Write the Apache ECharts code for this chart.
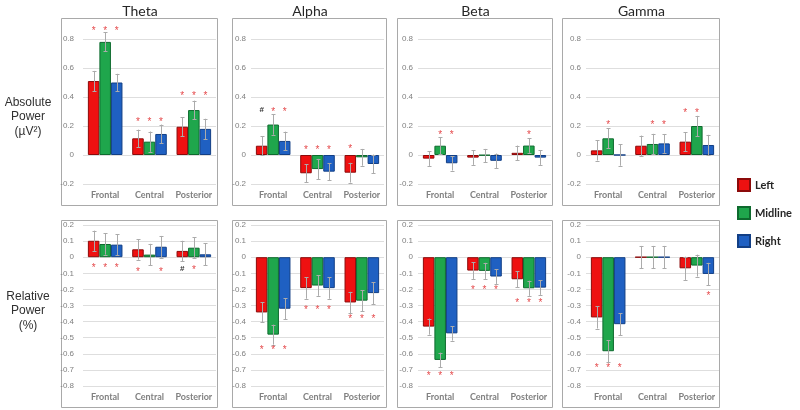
<!DOCTYPE html>
<html><head><meta charset="utf-8">
<script src="https://cdn.jsdelivr.net/npm/echarts@6/dist/echarts.min.js"></script>
<style>html,body{margin:0;padding:0;background:#fff}#c{width:800px;height:410px}</style>
</head><body><div id="c"></div>
<script>
const bands = ['Theta', 'Alpha', 'Beta', 'Gamma'];
const regions = ['Frontal', 'Central', 'Posterior'];
const sides = ['Left', 'Midline', 'Right'];
const rowTitles = ['Absolute\nPower\n(\u00b5V\u00b2)', 'Relative\nPower\n(%)'];
const absTicks = [-0.2, 0, 0.2, 0.4, 0.6, 0.8];
const relTicks = [-0.8, -0.7, -0.6, -0.5, -0.4, -0.3, -0.2, -0.1, 0, 0.1, 0.2];

// Absolute power, per band: [Frontal, Central, Posterior]
const absLeft    = [[0.51, 0.115, 0.195], [0.064, -0.126, -0.122], [-0.025, -0.018, 0.015], [0.032, 0.064, 0.092]];
const absMidline = [[0.78, 0.092, 0.31], [0.21, -0.097, -0.016], [0.064, -0.003, 0.065], [0.115, 0.076, 0.2]];
const absRight   = [[0.50, 0.145, 0.18], [0.097, -0.115, -0.062], [-0.057, -0.04, -0.018], [0.0, 0.08, 0.069]];
const absErrLeft    = [[0.07, 0.06, 0.065], [0.066, 0.063, 0.068], [0.05, 0.05, 0.05], [0.07, 0.07, 0.065]];
const absErrMidline = [[0.065, 0.07, 0.065], [0.07, 0.07, 0.058], [0.06, 0.045, 0.05], [0.07, 0.07, 0.07]];
const absErrRight   = [[0.06, 0.065, 0.07], [0.064, 0.06, 0.065], [0.05, 0.05, 0.05], [0.074, 0.065, 0.07]];

// Relative power, per band: [Frontal, Central, Posterior]
const relLeft    = [[0.102, 0.049, 0.039], [-0.343, -0.192, -0.281], [-0.431, -0.083, -0.137], [-0.374, 0, -0.069]];
const relMidline = [[0.082, 0.016, 0.059], [-0.481, -0.176, -0.27], [-0.638, -0.085, -0.193], [-0.584, 0, -0.052]];
const relRight   = [[0.078, 0.065, 0.018], [-0.32, -0.192, -0.223], [-0.473, -0.12, -0.189], [-0.416, 0, -0.104]];
const relErrLeft    = [[0.063, 0.064, 0.063], [0.062, 0.066, 0.066], [0.05, 0.052, 0.05], [0.069, 0.07, 0.072]];
const relErrMidline = [[0.066, 0.067, 0.065], [0.062, 0.064, 0.066], [0.045, 0.05, 0.047], [0.07, 0.07, 0.068]];
const relErrRight   = [[0.064, 0.067, 0.068], [0.064, 0.066, 0.068], [0.045, 0.046, 0.045], [0.068, 0.07, 0.069]];

// Significance markers: [band, region, side, symbol, y value]
const absMarks = [
  [0, 0, 0, '*', 0.874], [0, 0, 1, '*', 0.874], [0, 0, 2, '*', 0.874],
  [0, 1, 0, '*', 0.246], [0, 1, 1, '*', 0.246], [0, 1, 2, '*', 0.246],
  [0, 2, 0, '*', 0.425], [0, 2, 1, '*', 0.425], [0, 2, 2, '*', 0.425],
  [1, 0, 0, '#', 0.315], [1, 0, 1, '*', 0.315], [1, 0, 2, '*', 0.315],
  [1, 1, 0, '*', 0.05], [1, 1, 1, '*', 0.05], [1, 1, 2, '*', 0.05],
  [1, 2, 0, '*', 0.057],
  [2, 0, 1, '*', 0.154], [2, 0, 2, '*', 0.154], [2, 2, 1, '*', 0.154],
  [3, 0, 1, '*', 0.223], [3, 1, 1, '*', 0.223], [3, 1, 2, '*', 0.223],
  [3, 2, 0, '*', 0.303], [3, 2, 1, '*', 0.303]
];
const relMarks = [
  [0, 0, 0, '*', -0.053], [0, 0, 1, '*', -0.053], [0, 0, 2, '*', -0.053],
  [0, 1, 0, '*', -0.08], [0, 1, 2, '*', -0.08],
  [0, 2, 0, '#', -0.069], [0, 2, 1, '*', -0.065],
  [1, 0, 0, '*', -0.564], [1, 0, 1, '*', -0.564], [1, 0, 2, '*', -0.564],
  [1, 1, 0, '*', -0.312], [1, 1, 1, '*', -0.312], [1, 1, 2, '*', -0.312],
  [1, 2, 0, '*', -0.372], [1, 2, 1, '*', -0.372], [1, 2, 2, '*', -0.372],
  [2, 0, 0, '*', -0.721], [2, 0, 1, '*', -0.721], [2, 0, 2, '*', -0.721],
  [2, 1, 0, '*', -0.189], [2, 1, 1, '*', -0.189], [2, 1, 2, '*', -0.189],
  [2, 2, 0, '*', -0.269], [2, 2, 1, '*', -0.269], [2, 2, 2, '*', -0.269],
  [3, 0, 0, '*', -0.676], [3, 0, 1, '*', -0.676], [3, 0, 2, '*', -0.676],
  [3, 2, 2, '*', -0.23]
];

// ---- layout / style ----
const colors = ['#ee1111', '#1fa64c', '#1f60c2'];
const borders = ['#8c0a0a', '#0e6a2e', '#123f85'];
const gridLeft = [83, 251, 418, 586];
const gridW = 133;
const labelMargin = [9, 5, 5, 5];
const boxX = [61, 232, 397, 562];
const boxW = [156, 154, 155, 157];
const rowGrid = [{ top: 39, height: 145 }, { top: 225, height: 161 }];
const rowBox = [{ y: 18, h: 187 }, { y: 220, h: 187 }];
const CAT_GAP = 0.22;

const vals = [[absLeft, absMidline, absRight], [relLeft, relMidline, relRight]];
const errs = [[absErrLeft, absErrMidline, absErrRight], [relErrLeft, relErrMidline, relErrRight]];
const marks = [absMarks, relMarks];
const ticks = [absTicks, relTicks];

const grids = [], xAxes = [], yAxes = [], series = [], graphics = [];

function barOffset(api, s) {
  const W = api.size([1, 0])[0];
  const bw = W * (1 - CAT_GAP) / 3;
  return (s - 1) * bw;
}

for (let row = 0; row < 2; row++) {
  for (let b = 0; b < 4; b++) {
    const g = row * 4 + b;
    const t = ticks[row];
    grids.push({ left: gridLeft[b], width: gridW, top: rowGrid[row].top, height: rowGrid[row].height });
    xAxes.push({
      gridIndex: g, type: 'category', data: regions,
      axisLine: { show: false, onZero: false }, axisTick: { show: false },
      axisLabel: { interval: 0, hideOverlap: false, margin: 7, fontSize: 9, fontWeight: 'bold', color: '#808080', fontFamily: 'Lato' },
      splitLine: { show: false }
    });
    yAxes.push({
      gridIndex: g, type: 'value', min: t[0], max: t[t.length - 1],
      interval: Math.round((t[1] - t[0]) * 10) / 10,
      axisLine: { show: false }, axisTick: { show: false },
      axisLabel: {
        margin: labelMargin[b], fontSize: 8, color: '#7f7f7f', fontFamily: 'Liberation Sans',
        formatter: v => String(Math.round(v * 10) / 10)
      },
      splitLine: { lineStyle: { color: '#dedede', width: 1 } }
    });
    for (let s = 0; s < 3; s++) {
      series.push({
        type: 'bar', name: sides[s], xAxisIndex: g, yAxisIndex: g,
        data: vals[row][s][b], barGap: '0%', barCategoryGap: (CAT_GAP * 100) + '%',
        itemStyle: { color: colors[s], borderColor: borders[s], borderWidth: 1 },
        emphasis: { disabled: true }, z: 2
      });
    }
    // error bars
    const eData = [];
    for (let c = 0; c < 3; c++) for (let s = 0; s < 3; s++) {
      eData.push([c, s, vals[row][s][b][c], errs[row][s][b][c]]);
    }
    series.push({
      type: 'custom', xAxisIndex: g, yAxisIndex: g, z: 5, silent: true,
      encode: { x: 0, y: 2 }, data: eData,
      renderItem: function (params, api) {
        const c = api.value(0), s = api.value(1), v = api.value(2), e = api.value(3);
        const x = Math.round(api.coord([c, v])[0] + barOffset(api, s)) + 0.5;
        const y1 = api.coord([c, v + e])[1], y2 = api.coord([c, v - e])[1];
        const st = { stroke: '#ababab', lineWidth: 1 };
        const cw = 2;
        return {
          type: 'group', children: [
            { type: 'line', shape: { x1: x, y1: y1, x2: x, y2: y2 }, style: st },
            { type: 'line', shape: { x1: x - cw, y1: Math.round(y1) + 0.5, x2: x + cw, y2: Math.round(y1) + 0.5 }, style: st },
            { type: 'line', shape: { x1: x - cw, y1: Math.round(y2) + 0.5, x2: x + cw, y2: Math.round(y2) + 0.5 }, style: st }
          ]
        };
      }
    });
    // markers
    const mList = marks[row].filter(m => m[0] === b);
    series.push({
      type: 'custom', xAxisIndex: g, yAxisIndex: g, z: 6, silent: true,
      encode: { x: 0, y: 2 }, data: mList.map(m => [m[1], m[2], m[4]]),
      renderItem: function (params, api) {
        const m = mList[params.dataIndex];
        const c = api.value(0), s = api.value(1), yv = api.value(2);
        const p = api.coord([c, yv]);
        const isStar = m[3] === '*';
        return {
          type: 'text', x: p[0] + barOffset(api, s), y: p[1] + (isStar ? 2.5 : 0),
          style: {
            text: m[3], fill: isStar ? '#e5494b' : '#333333',
            fontSize: isStar ? 10 : 8, fontWeight: isStar ? 'normal' : 'bold',
            fontFamily: 'Liberation Sans', align: 'center', verticalAlign: 'middle'
          }
        };
      }
    });
    // panel frame
    graphics.push({
      type: 'rect', silent: true, z: 0,
      shape: { x: boxX[b] + 0.5, y: rowBox[row].y + 0.5, width: boxW[b], height: rowBox[row].h },
      style: { fill: 'none', stroke: '#a9a9a9', lineWidth: 1 }
    });
    if (row === 0) {
      graphics.push({
        type: 'text', silent: true,
        x: boxX[b] + boxW[b] / 2 + 1, y: 11,
        style: { text: bands[b], fill: '#262626', fontSize: 14, fontFamily: 'Lato', align: 'center', verticalAlign: 'middle' }
      });
    }
  }
  graphics.push({
    type: 'text', silent: true, x: 28, y: row === 0 ? 117 : 311,
    style: {
      text: rowTitles[row], fill: '#303030', fontSize: 12, lineHeight: 14.5,
      fontFamily: 'Liberation Sans', align: 'center', verticalAlign: 'middle'
    }
  });
}

const chart = echarts.init(document.getElementById('c'), null, { renderer: 'canvas' });
chart.setOption({
  animation: false,
  backgroundColor: '#ffffff',
  grid: grids, xAxis: xAxes, yAxis: yAxes, series: series,
  graphic: { elements: graphics },
  legend: {
    data: sides, orient: 'vertical', left: 737, top: 178, padding: 0,
    itemWidth: 12, itemHeight: 12, itemGap: 14, icon: 'rect', selectedMode: false,
    textStyle: { fontSize: 11, fontWeight: 'bold', color: '#262626', fontFamily: 'Lato', lineHeight: 12 }
  }
});
</script>
</body></html>
